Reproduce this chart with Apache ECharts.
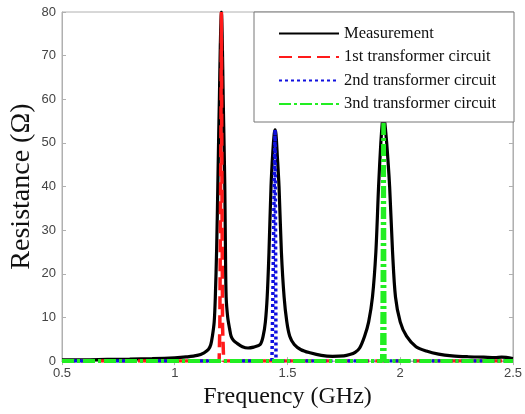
<!DOCTYPE html>
<html><head><meta charset="utf-8">
<script src="https://cdn.jsdelivr.net/npm/echarts@6/dist/echarts.min.js"></script>
<style>html,body{margin:0;padding:0;background:#fff}#c{width:525px;height:414px}</style>
</head><body><div id="c"></div>
<script>
var xTicks = ['0.5','1','1.5','2','2.5'];
var yTicks = ['0','10','20','30','40','50','60','70','80'];
var seriesNames = ['Measurement','1st transformer circuit','2nd transformer circuit','3nd transformer circuit'];

var measFreq = [0.5,0.6,0.7,0.8,0.9,1.0,1.05,1.1,1.13,1.15,1.16,1.167,1.175,1.18,1.186,1.191,1.195,1.198,1.202,1.207,1.211,1.215,1.219,1.222,1.225,1.228,1.235,1.243,1.25,1.26,1.276,1.3,1.325,1.35,1.379,1.392,1.402,1.41,1.418,1.427,1.435,1.441,1.445,1.449,1.455,1.4625,1.473,1.485,1.497,1.51,1.53,1.56,1.6,1.65,1.7,1.75,1.776,1.8,1.82,1.842,1.86,1.877,1.892,1.904,1.914,1.921,1.926,1.931,1.94,1.953,1.966,1.979,2.0,2.028,2.07,2.116,2.17,2.23,2.3,2.37,2.42,2.45,2.5];
var measVals = [0.3,0.3,0.4,0.45,0.55,0.75,0.95,1.3,1.9,2.7,3.8,5.7,9,14.7,26,40,52,60,72,80,73,60,49,40,25,14.7,10,7.5,5.7,4.8,4.1,3.3,3.0,3.2,3.8,5.7,9,14.7,25,40,48,52,53,52,47,40,25,14.7,9,5.7,3.8,2.6,1.9,1.3,1.1,1.2,1.5,2.0,3.0,5.7,9,14.7,25,40,50,55,57,55,50,40,25,14.7,9,5.7,3.3,2.3,1.6,1.2,1.0,0.9,0.8,0.9,0.6];

var redFreq = [0.5,1.197,1.2,1.204,1.207,1.209,1.212,1.217,2.5];
var redVals = [0,0,8,45,80,45,8,0,0];

var blueFreq = [0.5,1.431,1.432,1.436,1.44,1.445,1.447,1.449,2.5];
var blueVals = [0,0,3,18,36,53,30,0,0];

var greenFreq = [0.5,1.919,1.921,1.924,1.926,1.928,1.931,2.5];
var greenVals = [0,0,12,50,58,50,0,0];

function pairs(xs, ys){ return xs.map(function(x,i){ return [x, ys[i]]; }); }

var chart = echarts.init(document.getElementById('c'), null, {renderer:'canvas'});
var tickFont = {fontFamily:'Arial, Liberation Sans', fontSize:13, color:'#444'};
var serif = 'Liberation Serif, Times New Roman, serif';
chart.setOption({
  animation:false,
  backgroundColor:'#fff',
  grid:{left:61, top:12, right:11, bottom:49, show:true, borderColor:'#b0b0b0', borderWidth:1, backgroundColor:'transparent'},
  graphic:[{type:'rect', z:3, shape:{x:254, y:12, width:260, height:110}, style:{fill:'#fff', stroke:'#777', lineWidth:1}}],
  legend:{
    left:254, top:25, z:5, padding:[0,0,0,24], orient:'vertical', itemGap:6.5, itemWidth:60, itemHeight:14,
    data:seriesNames, selectedMode:false,
    textStyle:{fontFamily:serif, fontSize:16.5, color:'#111'},
    itemStyle:{opacity:0, borderWidth:0},
    lineStyle:{width:2}
  },
  xAxis:[{
    type:'value', min:0.5, max:2.5, interval:0.5, position:'bottom',
    name:'Frequency (GHz)', nameLocation:'middle', nameGap:22,
    nameTextStyle:{fontFamily:serif, fontSize:24, color:'#111'},
    axisLine:{show:true, lineStyle:{color:'#b0b0b0'}},
    axisTick:{show:true, inside:true, length:4, lineStyle:{color:'#b0b0b0'}},
    axisLabel:Object.assign({margin:6, formatter:function(v){ var i=Math.round((v-0.5)/0.5); return xTicks[i]; }}, tickFont),
    splitLine:{show:false}
  },{
    type:'value', min:0.5, max:2.5, interval:0.5, position:'top',
    axisLine:{show:true, lineStyle:{color:'#b0b0b0'}},
    axisTick:{show:true, inside:true, length:4, lineStyle:{color:'#b0b0b0'}},
    axisLabel:{show:false}, splitLine:{show:false}
  }],
  yAxis:[{
    type:'value', min:0, max:80, interval:10, position:'left',
    name:'Resistance (\u03A9)', nameLocation:'middle', nameGap:26, nameMoveOverlap:false,
    nameTextStyle:{fontFamily:serif, fontSize:28, color:'#111'},
    axisLine:{show:true, lineStyle:{color:'#b0b0b0'}},
    axisTick:{show:true, inside:true, length:4, lineStyle:{color:'#b0b0b0'}},
    axisLabel:Object.assign({margin:6, formatter:function(v){ return yTicks[Math.round(v/10)]; }}, tickFont),
    splitLine:{show:false}
  },{
    type:'value', min:0, max:80, interval:10, position:'right',
    axisLine:{show:true, lineStyle:{color:'#b0b0b0'}},
    axisTick:{show:true, inside:true, length:4, lineStyle:{color:'#b0b0b0'}},
    axisLabel:{show:false}, splitLine:{show:false}
  }],
  series:[
    {name:seriesNames[0], type:'line', data:pairs(measFreq, measVals), showSymbol:false, symbol:'none', smooth:0.3, z:2,
     lineStyle:{color:'#000', width:3.2}, itemStyle:{color:'#000'}},
    {name:seriesNames[1], type:'line', data:pairs(redFreq, redVals), showSymbol:false, symbol:'none', z:2,
     lineStyle:{color:'#ff1a1a', width:3.5, type:[13,6]}, itemStyle:{color:'#ff1a1a'}},
    {name:seriesNames[2], type:'line', data:pairs(blueFreq, blueVals), showSymbol:false, symbol:'none', z:2,
     lineStyle:{color:'#1010e0', width:3.5, type:[3,3]}, itemStyle:{color:'#1010e0'}},
    {name:seriesNames[3], type:'line', data:pairs(greenFreq, greenVals), showSymbol:false, symbol:'none', z:2,
     lineStyle:{color:'#22ee22', width:4, type:[12,3,3,3]}, itemStyle:{color:'#22ee22'}}
  ]
});
</script></body></html>
